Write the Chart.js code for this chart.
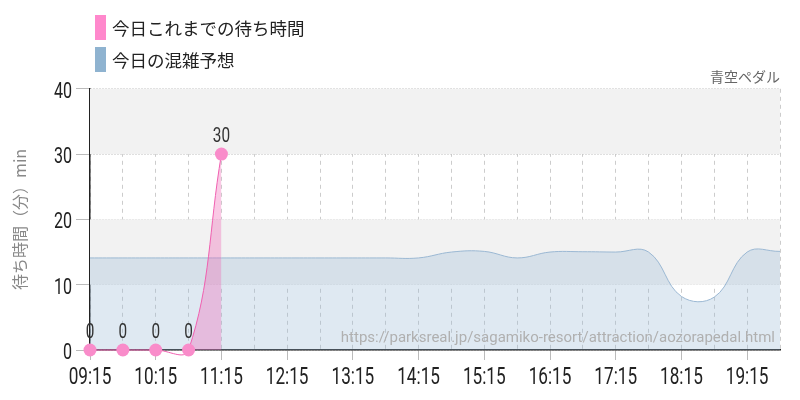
<!DOCTYPE html>
<html>
<head>
<meta charset="utf-8">
<script src="https://cdn.jsdelivr.net/npm/chart.js@4.4.1/dist/chart.umd.min.js"></script>
<style>
  html, body { margin: 0; padding: 0; background: #fff; }
  #wrap { position: relative; width: 800px; height: 400px; }
  #legend { position: absolute; left: 95px; top: 15px; font-family: "Noto Sans CJK JP", sans-serif; font-size: 17.5px; color: #222; }
  .item { display: flex; align-items: center; height: 25px; margin-bottom: 7px; }
  .box { width: 11px; height: 25px; margin-right: 6px; }
</style>
</head>
<body>
<div id="wrap">
  <canvas id="chart" width="800" height="400"></canvas>
  <div id="legend"></div>
</div>
<script>
const times = ['09:15','09:45','10:15','10:45','11:15','11:45','12:15','12:45','13:15','13:45','14:15','14:45',
  '15:15','15:45','16:15','16:45','17:15','17:45','18:15','18:45','19:15','19:45'];
const waitToday = [0, 0, 0, 0, 30, null, null, null, null, null, null, null,
  null, null, null, null, null, null, null, null, null, null];
const crowdForecast = [14.1, 14.1, 14.1, 14.1, 14.1, 14.1, 14.1, 14.1, 14.1, 14.1, 14.1, 15.0,
  15.1, 14.1, 15.0, 15.05, 15.0, 15.0, 8.2, 8.1, 15.0, 15.1];
const yTicks = [0, 10, 20, 30, 40];
const seriesNames = ['今日これまでの待ち時間', '今日の混雑予想'];
const legendColors = ['#ff88cc', '#8fb3d0'];

// no condensed face installed, so numbers get squeezed horizontally
const squeeze = 0.73;

function narrowText(ctx, text, x, y, align) {
  ctx.save();
  ctx.translate(x, y);
  ctx.scale(squeeze, 1);
  ctx.textAlign = align;
  ctx.fillText(text, 0, 0);
  ctx.restore();
}

// legend as html, stacked like the original
const legend = document.getElementById('legend');
seriesNames.forEach((name, i) => {
  legend.innerHTML += '<div class="item"><div class="box" style="background:' + legendColors[i] + '"></div>' + name + '</div>';
});

// grey bands behind the plot
const bandsPlugin = {
  id: 'bands',
  beforeDatasetsDraw(chart) {
    const { ctx, chartArea, scales: { y } } = chart;
    ctx.save();
    ctx.fillStyle = '#f2f2f2';
    [[10, 20], [30, 40]].forEach(([a, b]) => {
      const top = y.getPixelForValue(b);
      const bottom = y.getPixelForValue(a);
      ctx.fillRect(chartArea.left, top, chartArea.right - chartArea.left, bottom - top);
    });
    ctx.restore();
  }
};

// value labels + url watermark
const labelsPlugin = {
  id: 'valueLabels',
  afterDatasetsDraw(chart) {
    const { ctx, chartArea } = chart;
    ctx.save();
    ctx.font = '15px Roboto, sans-serif';
    ctx.fillStyle = '#b0b0b0';
    ctx.textAlign = 'right';
    ctx.textBaseline = 'alphabetic';
    ctx.fillText('https://parksreal.jp/sagamiko-resort/attraction/aozorapedal.html', chartArea.right - 5, chartArea.bottom - 8);

    const meta = chart.getDatasetMeta(0);
    ctx.font = '21px Roboto, sans-serif';
    ctx.fillStyle = '#333';
    meta.data.forEach((pt, i) => {
      const v = waitToday[i];
      if (v === null) return;
      narrowText(ctx, String(v), pt.x, pt.y - 12, 'center');
    });
    ctx.restore();
  }
};

// axis numbers, placed with the scales
const tickTextPlugin = {
  id: 'tickText',
  afterDraw(chart) {
    const { ctx, chartArea, scales: { x, y } } = chart;
    ctx.save();
    ctx.fillStyle = '#222';
    ctx.textBaseline = 'alphabetic';
    ctx.font = '23.5px Roboto, sans-serif';
    times.forEach((t, i) => {
      if (i % 2 !== 0) return;
      narrowText(ctx, t, x.getPixelForTick(i), chartArea.bottom + 33.5, 'center');
    });
    ctx.font = '22px Roboto, sans-serif';
    yTicks.forEach(v => {
      narrowText(ctx, String(v), chartArea.left - 18, y.getPixelForValue(v) + 9, 'right');
    });
    ctx.restore();
  }
};

new Chart(document.getElementById('chart'), {
  type: 'line',
  data: {
    labels: times,
    datasets: [
      {
        label: seriesNames[0],
        data: waitToday,
        borderColor: '#f060b0',
        borderWidth: 1,
        backgroundColor: 'rgba(240,100,180,0.35)',
        fill: 'origin',
        tension: 0.4,
        capBezierPoints: false,
        pointRadius: 6.5,
        pointBackgroundColor: '#f98cca',
        pointBorderWidth: 0,
        spanGaps: false,
        clip: false
      },
      {
        label: seriesNames[1],
        data: crowdForecast,
        borderColor: '#9bb8d3',
        borderWidth: 1,
        backgroundColor: 'rgba(152,184,213,0.31)',
        fill: 'origin',
        tension: 0.4,
        pointRadius: 0
      }
    ]
  },
  options: {
    responsive: false,
    animation: false,
    layout: { padding: { top: 62, right: 20, left: 10, bottom: 0 } },
    plugins: {
      legend: { display: false },
      tooltip: { enabled: false },
      title: {
        display: true,
        text: '青空ペダル',
        align: 'end',
        color: '#666',
        font: { family: '"Noto Sans CJK JP", sans-serif', size: 14, weight: 'normal' },
        padding: { top: 6, bottom: 4 }
      }
    },
    scales: {
      x: {
        grid: {
          color: '#cccccc',
          lineWidth: 1,
          tickLength: 10,
          tickColor: ctx => (ctx.index % 2 === 0 ? '#bbbbbb' : 'rgba(0,0,0,0)')
        },
        border: { display: true, color: '#222', width: 1.5, dash: [4, 4] },
        ticks: {
          autoSkip: false,
          maxRotation: 0,
          color: 'rgba(0,0,0,0)',
          font: { family: 'Roboto', size: 21 },
          callback: (val, i) => (i % 2 === 0 ? times[i] : '')
        },
        afterFit: s => { s.height = 50; }
      },
      y: {
        min: 0,
        max: 40,
        afterBuildTicks: s => { s.ticks = yTicks.map(v => ({ value: v })); },
        grid: { color: '#bbbbbb', lineWidth: 1, tickLength: 14, tickColor: '#bbbbbb' },
        border: { display: true, color: '#222', width: 1.5, dash: [1, 2] },
        ticks: {
          color: 'rgba(0,0,0,0)',
          font: { family: 'Roboto', size: 21 }
        },
        title: {
          display: true,
          text: '待ち時間（分）min',
          color: '#888',
          font: { family: '"Noto Sans CJK JP", sans-serif', size: 16 },
          padding: { top: 0, bottom: 4 }
        },
        afterFit: s => { s.width = 80; }
      }
    }
  },
  plugins: [bandsPlugin, labelsPlugin, tickTextPlugin]
});
</script>
</body>
</html>
